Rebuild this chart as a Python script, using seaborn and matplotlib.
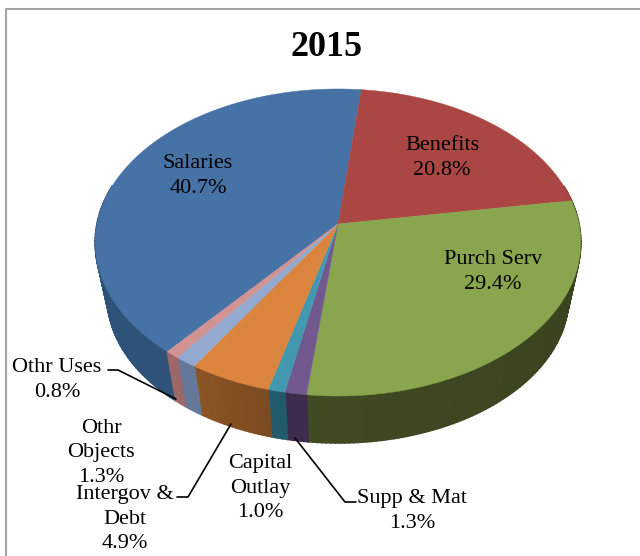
import numpy as np
import matplotlib
matplotlib.use('Agg')
import matplotlib.pyplot as plt
from matplotlib.colors import to_rgb
import seaborn as sns

# slices, clockwise from the salaries slice
categories = ['Salaries', 'Benefits', 'Purch Serv', 'Supp & Mat', 'Capital\nOutlay',
              'Intergov &\nDebt', 'Othr\nObjects', 'Othr Uses']
values = [40.7, 20.8, 29.4, 1.3, 1.0, 4.9, 1.3, 0.8]
top_colors = ['#4672a6', '#aa4643', '#89a54e', '#71588f', '#4198af', '#db843d', '#93a9cf', '#d19392']
wall_left = ['#41699a', '#6e2d2b', '#414c25', '#3e2c4d', '#215a6b', '#8f5726', '#66789a', '#9c6767']
wall_right = ['#2f5378', '#6e2d2b', '#38421e', '#3e2c4d', '#215a6b', '#7d4b21', '#66789a', '#9c6767']
label_pos = [(198, 176), (442, 158), (493, 272), (412, 511), (260, 488), (125, 519), (101, 453), (57, 380)]

sns.set_theme(style='white')
plt.rcParams['font.family'] = ['Liberation Serif', 'DejaVu Serif']

# tilted disc: apex and perspective
cx, cy = 338, 224
B, A, c = 241, 151.3, 0.1205
low_k, low_shift = 0.95, 55.5


def project(theta, k=1.0, shift=0.0):
    x, y = np.cos(np.radians(theta)), np.sin(np.radians(theta))
    w = 1 + c * y
    return cx + k * B * x / w, cy - k * A * y / w + shift


fig, ax = plt.subplots(figsize=(6.4, 5.56), dpi=100)
fig.subplots_adjust(0, 0, 1, 1)

wedges, _ = ax.pie(values, colors=top_colors, startangle=230, counterclock=False)
angles = [(w.theta1, w.theta2) for w in wedges]
for w in wedges:
    w.remove()
ax.set_aspect('auto')
ax.set_xlim(0, 640)
ax.set_ylim(556, 0)
ax.axis('off')

# outer wall, cut in thin strips so the shade can run along it
for (t1, t2), left, right in zip(angles, wall_left, wall_right):
    t1m = t1 % 360
    span = t2 - t1
    lo, hi = to_rgb(left), to_rgb(right)
    steps = max(int(span), 2)
    th = np.linspace(t1, t2, steps + 1)
    for a, b in zip(th[:-1], th[1:]):
        mid = ((a + b) / 2) % 360
        if mid < 165 and mid > 15:
            continue
        if mid <= 15:
            mid += 360
        # lighter towards the left hand end of each slice
        if t1m >= 165:
            f = (mid - max(t1m, 165)) / max(min(t1m + span, 375) - max(t1m, 165), 1)
        else:
            f = 1
        f = float(np.clip(f, 0, 1)) ** 0.6
        color = tuple(l + (r - l) * f for l, r in zip(lo, hi))
        xa, ya = project(a)
        xb, yb = project(b)
        xc, yc = project(b, low_k, low_shift)
        xd, yd = project(a, low_k, low_shift)
        ax.fill([xa, xb, xc, xd], [ya, yb, yc, yd], color=color, lw=1.2, zorder=2)

# top face
for (t1, t2), color in zip(angles, top_colors):
    th = np.linspace(t1, t2, max(int(t2 - t1) * 2, 6))
    xs, ys = project(th)
    ax.fill(np.r_[cx, xs], np.r_[cy, ys], color=color, lw=0.3, zorder=3)

# leader lines
leader_color = 'black'
ax.plot([108, 118, 176], [370, 370, 399], color=leader_color, lw=1.2, zorder=4)
ax.plot([177, 188, 231], [497, 497, 424], color=leader_color, lw=1.2, zorder=4)
ax.plot([295, 345, 356], [438, 502, 502], color=leader_color, lw=1.2, zorder=4)

for name, val, (px, py) in zip(categories, values, label_pos):
    ax.text(px, py, f'{name}\n{val:.1f}%', ha='center', va='center', fontsize=16,
            color='black', linespacing=1.38, zorder=5)

ax.text(327, 48, '2015', ha='center', va='center', fontsize=26, fontweight='bold', color='black')

# chart frame, cropped at right and bottom
ax.plot([5.5, 5.5, 640], [556, 8.5, 8.5], color='#a3a3a3', lw=1.5, zorder=1)

fig.savefig('out.png', dpi=100)
